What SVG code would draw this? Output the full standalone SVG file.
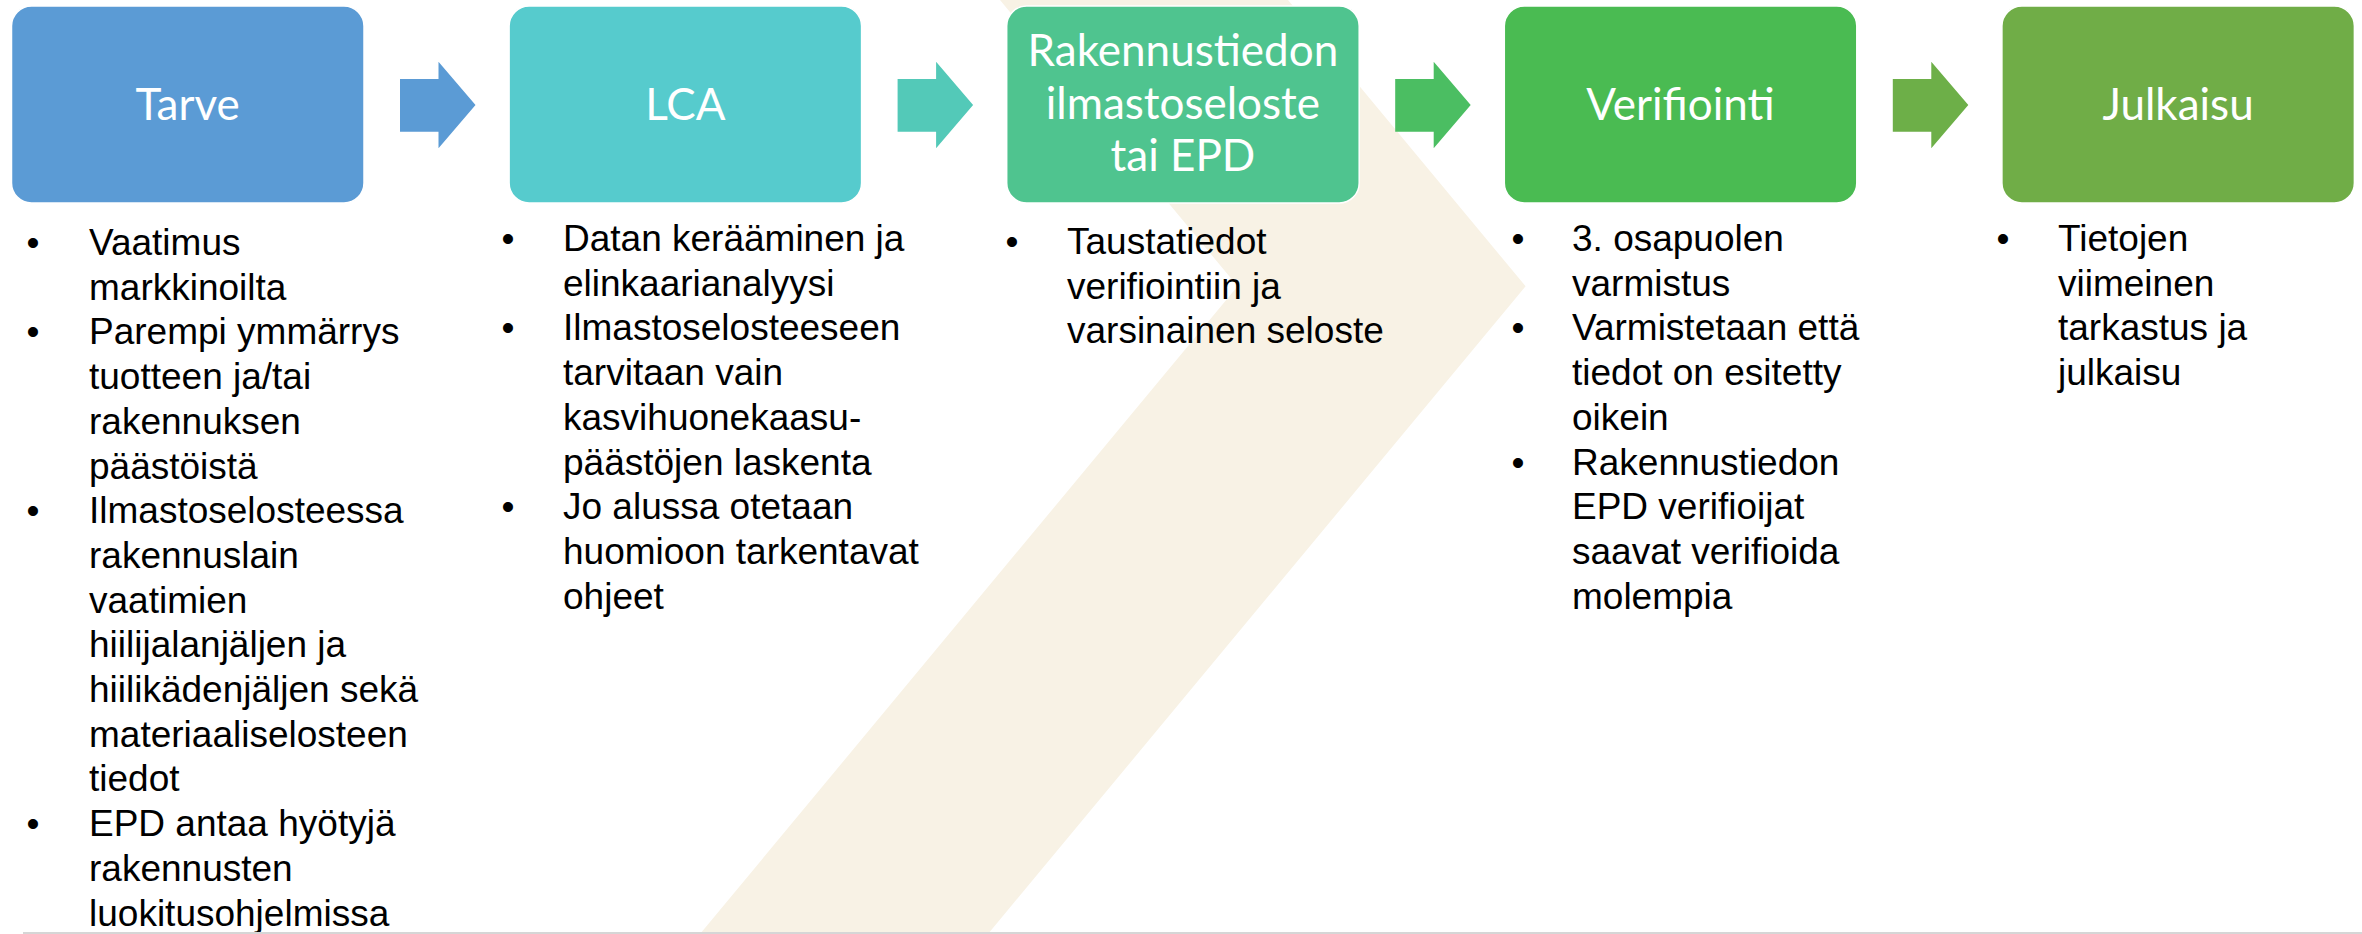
<svg xmlns="http://www.w3.org/2000/svg" width="2362" height="934" viewBox="0 0 2362 934">
<style>
.box{stroke:#ffffff;stroke-width:1.5}
.lbl{font-family:Lato,"Open Sans","Noto Sans",sans-serif;font-size:44px;fill:#ffffff;text-anchor:middle}
.txt{font-family:"Liberation Sans",Arial,sans-serif;font-size:37px;fill:#000000}
.bul{font-family:"Liberation Sans",Arial,sans-serif;font-size:37px;fill:#000000;text-anchor:middle}
</style>
<rect x="0" y="0" width="2362" height="934" fill="#ffffff"/>
<polygon id="chevron" points="1000,0 1288,0 1525.6,286.3 988,934 700,934 1237.6,286.3" fill="#F8F2E5"/>
<g id="connectors">
<polygon fill="#5B9BD5" points="400,79 438.5,79 438.5,61.7 475.5,105 438.5,148.3 438.5,131.7 400,131.7"/>
<polygon fill="#53C9B8" points="897.6,79 936.1,79 936.1,61.7 973.1,105 936.1,148.3 936.1,131.7 897.6,131.7"/>
<polygon fill="#4BBE62" points="1395.2,79 1433.7,79 1433.7,61.7 1470.7,105 1433.7,148.3 1433.7,131.7 1395.2,131.7"/>
<polygon fill="#6DAF48" points="1892.8,79 1931.3,79 1931.3,61.7 1968.3,105 1931.3,148.3 1931.3,131.7 1892.8,131.7"/>
</g>
<g id="node-tarve">
<rect class="box" x="11.5" y="6" width="352.5" height="197" rx="20" fill="#5B9BD5"/>
<text class="lbl" x="187.7" y="119.5">Tarve</text>
<text class="bul" x="33" y="255">•<tspan x="33" y="344.4">•</tspan><tspan x="33" y="523.2">•</tspan><tspan x="33" y="836.1">•</tspan></text>
<text class="txt" x="89" y="255"><tspan x="89" y="255">Vaatimus</tspan><tspan x="89" dy="44.7">markkinoilta</tspan><tspan x="89" dy="44.7">Parempi ymmärrys</tspan><tspan x="89" dy="44.7">tuotteen ja/tai</tspan><tspan x="89" dy="44.7">rakennuksen</tspan><tspan x="89" dy="44.7">päästöistä</tspan><tspan x="89" dy="44.7">Ilmastoselosteessa</tspan><tspan x="89" dy="44.7">rakennuslain</tspan><tspan x="89" dy="44.7">vaatimien</tspan><tspan x="89" dy="44.7">hiilijalanjäljen ja</tspan><tspan x="89" dy="44.7">hiilikädenjäljen sekä</tspan><tspan x="89" dy="44.7">materiaaliselosteen</tspan><tspan x="89" dy="44.7">tiedot</tspan><tspan x="89" dy="44.7">EPD antaa hyötyjä</tspan><tspan x="89" dy="44.7">rakennusten</tspan><tspan x="89" dy="44.7">luokitusohjelmissa</tspan></text>
</g>
<g id="node-lca">
<rect class="box" x="509.1" y="6" width="352.5" height="197" rx="20" fill="#56CBCD"/>
<text class="lbl" x="685.3" y="119.5">LCA</text>
<text class="bul" x="508" y="251">•<tspan x="508" y="340.4">•</tspan><tspan x="508" y="519.2">•</tspan></text>
<text class="txt" x="563" y="251"><tspan x="563" y="251">Datan kerääminen ja</tspan><tspan x="563" dy="44.7">elinkaarianalyysi</tspan><tspan x="563" dy="44.7">Ilmastoselosteeseen</tspan><tspan x="563" dy="44.7">tarvitaan vain</tspan><tspan x="563" dy="44.7">kasvihuonekaasu-</tspan><tspan x="563" dy="44.7">päästöjen laskenta</tspan><tspan x="563" dy="44.7">Jo alussa otetaan</tspan><tspan x="563" dy="44.7">huomioon tarkentavat</tspan><tspan x="563" dy="44.7">ohjeet</tspan></text>
</g>
<g id="node-ilmastoseloste">
<rect class="box" x="1006.7" y="6" width="352.5" height="197" rx="20" fill="#4FC48F"/>
<text class="lbl" x="1182.9" y="66">Rakennustiedon<tspan x="1182.9" dy="52.5">ilmastoseloste</tspan><tspan x="1182.9" dy="52.5">tai EPD</tspan></text>
<text class="bul" x="1012" y="254">•</text>
<text class="txt" x="1067" y="254"><tspan x="1067" y="254">Taustatiedot</tspan><tspan x="1067" dy="44.7">verifiointiin ja</tspan><tspan x="1067" dy="44.7">varsinainen seloste</tspan></text>
</g>
<g id="node-verifiointi">
<rect class="box" x="1504.3" y="6" width="352.5" height="197" rx="20" fill="#4ABB52"/>
<text class="lbl" x="1680.5" y="119.5">Verifiointi</text>
<text class="bul" x="1518" y="251">•<tspan x="1518" y="340.4">•</tspan><tspan x="1518" y="474.5">•</tspan></text>
<text class="txt" x="1572" y="251"><tspan x="1572" y="251">3. osapuolen</tspan><tspan x="1572" dy="44.7">varmistus</tspan><tspan x="1572" dy="44.7">Varmistetaan että</tspan><tspan x="1572" dy="44.7">tiedot on esitetty</tspan><tspan x="1572" dy="44.7">oikein</tspan><tspan x="1572" dy="44.7">Rakennustiedon</tspan><tspan x="1572" dy="44.7">EPD verifioijat</tspan><tspan x="1572" dy="44.7">saavat verifioida</tspan><tspan x="1572" dy="44.7">molempia</tspan></text>
</g>
<g id="node-julkaisu">
<rect class="box" x="2001.9" y="6" width="352.5" height="197" rx="20" fill="#70AD47"/>
<text class="lbl" x="2178.1" y="119.5">Julkaisu</text>
<text class="bul" x="2003" y="251">•</text>
<text class="txt" x="2058" y="251"><tspan x="2058" y="251">Tietojen</tspan><tspan x="2058" dy="44.7">viimeinen</tspan><tspan x="2058" dy="44.7">tarkastus ja</tspan><tspan x="2058" dy="44.7">julkaisu</tspan></text>
</g>
<rect x="23" y="932" width="2339" height="2" fill="#D6D6D6"/>
</svg>
